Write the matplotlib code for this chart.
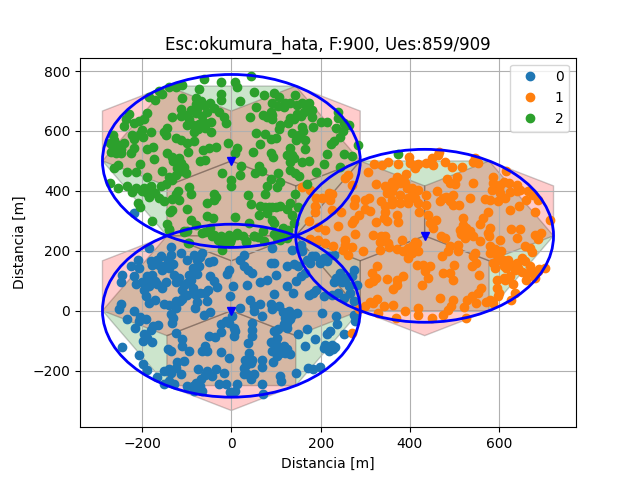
import numpy as np
import matplotlib
matplotlib.use('Agg')
import matplotlib.pyplot as plt
from matplotlib.patches import Polygon, Circle

sites = [(0, 0), (433, 250), (0, 500)]
isd = 500
labels = ['0', '1', '2']

ues_0 = [(-184,209),(-136,211),(-136,187),(-112,193),(-143,170),(-158,181),(-166,170),(-177,154),(-162,154),(-140,143),
(-155,137),(-84,187),(-65,193),(-76,170),(-50,163),(-40,165),(-87,143),(-76,123),(28,187),(20,170),(28,148),(38,137),
(47,126),(-5,137),(-9,123),(-48,115),(-39,98),(-33,79),(4,84),(36,87),(91,209),(88,159),(95,159),(125,148),(140,156),
(136,204),(155,220),(158,198),(181,181),(177,159),(188,181),(207,176),(218,181),(199,159),(229,187),(274,137),(270,115),
(244,126),(255,109),(155,115),(166,126),(99,120),(80,104),(65,95),(229,96),(248,96),(281,87),(263,81),(125,81),(138,59),
(173,54),(182,59),(95,56),(207,48),(225,54),(240,59),(252,43),(274,32),(41,37),(65,23),(50,15),(88,21),(106,15),(91,4),
(129,-2),(147,-7),(121,-24),(132,-29),(119,-46),(125,-57),(203,-7),(235,-18),(274,-13),(278,-35),(237,-46),(222,-68),
(214,-77),(252,-77),(170,-60),(149,-79),(188,-94),(164,-118),(207,-124),(218,-135),(225,-113),(233,-120),(199,-188),
(184,-196),(171,-192),(145,-207),(110,-218),(112,-235),(69,-246),(71,-279),(13,-246),(9,-268),(-2,-271),(50,-212),
(44,-229),(28,-190),(28,-212),(33,-181),(69,-163),(69,-188),(47,-163),(39,-140),(37,-107),(47,-85),(47,-63),(47,-40),
(6,-57),(9,-68),(6,-85),(20,9),(69,-18),(50,-2),(95,-68),(102,-90),(88,-104),(91,-135),(106,-124),(117,-118),(110,-140),
(132,-146),(93,-171),(102,-151),(125,-129),(-2,50),(2,-18),(-13,-35),(-24,-46),(-24,-70),(-37,-87),(-50,-85),(-60,-118),
(-65,-135),(-54,-135),(-24,-137),(-5,-157),(-75,-194),(-35,-196),(-17,-209),(-58,-216),(-43,-218),(-69,-229),(-80,-240),
(-87,-251),(-65,-268),(-84,-268),(-28,-246),(-13,-246),(-113,-210),(-106,-168),(-121,-170),(-95,-133),(-110,-96),
(-110,-118),(-125,-74),(-143,-129),(-136,-135),(-140,-196),(-151,-201),(-136,-207),(-140,-235),(-128,-244),(-151,-244),
(-166,-221),(-188,-199),(-199,-177),(-207,-148),(-246,-120),(-177,-104),(-197,-102),(-195,-79),(-181,-66),(-164,-49),
(-216,-57),(-233,-29),(-218,-2),(-192,-27),(-207,-35),(-248,21),(-251,6),(-132,-40),(-136,-11),(-125,9),(-116,34),
(-125,34),(-82,9),(-76,29),(-61,-15),(-48,-4),(-54,34),(-58,59),(-53,70),(-80,54),(-87,59),(-99,54),(-110,70),(-99,93),
(-91,104),(-117,109),(-128,120),(-147,96),(-166,89),(-184,81),(-195,70),(-192,48),(-184,26),(-170,37),(-151,21),
(-177,120),(-188,115),(-181,104),(-218,115),(-214,89),(-244,120),(-248,96),(-207,143),(-225,148),(-210,170),(-218,326),
(-180,165),(-150,150),(-130,155),(-100,170),(-70,180),(-72,150),(-95,120),(-85,75),(-70,60),(-105,85),(-125,95),
(-170,100),(-200,95),(-155,75),(-110,40),(-140,20),(-130,-25),(-205,-20),(-190,-90),(-175,-50),(200,170),(215,165),
(170,170),(150,150),(145,100),(190,70),(265,60),(255,100),(235,110),(115,-5),(125,-40),(105,-60),(135,-15),(100,-110),
(120,-140),(30,-165),(45,-175),(-5,-40),(35,-210),(-100,-250),(-70,-250),(-55,-200),(-125,-190),(210,-115),(228,-128)]

ues_1 = [(466,531),(399,514),(449,509),(464,520),(545,509),(553,492),(542,498),(478,495),(495,479),(516,481),(452,487),
(437,492),(419,490),(411,476),(400,492),(374,490),(350,498),(337,487),(320,489),(305,462),(616,465),(586,448),(392,456),
(372,448),(359,431),(323,422),(482,439),(505,446),(502,422),(490,426),(542,426),(586,426),(601,420),(622,426),(639,420),
(646,404),(665,398),(676,387),(583,404),(601,392),(613,376),(598,365),(579,370),(568,372),(534,376),(661,370),(687,370),
(645,348),(624,337),(681,329),(713,304),(378,426),(389,426),(393,409),(404,409),(419,403),(344,415),(348,392),(359,370),
(359,357),(378,387),(378,359),(396,359),(411,376),(419,359),(437,354),(437,387),(460,398),(467,365),(475,376),(497,387),
(497,354),(510,354),(421,331),(309,376),(300,370),(311,334),(277,372),(274,354),(219,392),(221,370),(203,376),(188,348),
(188,331),(225,337),(246,329),(173,298),(195,279),(240,284),(274,304),(270,292),(324,296),(344,331),(341,309),(348,298),
(370,320),(374,296),(441,320),(458,304),(445,292),(452,276),(575,328),(564,309),(557,290),(519,309),(519,287),(512,270),
(527,259),(523,243),(542,248),(557,234),(579,276),(578,248),(627,272),(646,272),(639,243),(680,254),(694,259),(687,239),
(601,237),(657,215),(674,195),(579,217),(579,193),(594,187),(545,193),(542,184),(508,220),(508,198),(486,198),(471,181),
(469,248),(478,243),(411,231),(419,198),(404,215),(385,198),(396,176),(404,192),(382,237),(318,254),(277,256),(255,237),
(255,220),(251,204),(270,213),(262,187),(294,198),(333,231),(333,204),(352,226),(354,211),(227,217),(210,226),(195,237),
(177,240),(538,148),(549,159),(499,154),(415,154),(430,154),(445,148),(434,131),(441,109),(326,148),(315,126),(324,109),
(317,98),(309,93),(348,106),(385,115),(372,104),(370,87),(361,73),(426,85),(473,126),(490,126),(497,104),(555,120),
(586,159),(590,143),(598,181),(609,170),(620,170),(616,143),(641,143),(650,176),(657,165),(668,148),(672,131),(687,131),
(702,143),(680,109),(661,101),(613,104),(624,115),(594,104),(594,76),(598,48),(560,76),(553,59),(538,48),(527,37),
(549,26),(579,37),(635,59),(627,37),(467,43),(496,37),(493,15),(486,2),(521,12),(475,-16),(525,-24),(449,-26),(419,9),
(419,-13),(389,-2),(369,-24),(361,20),(341,15),(327,39),(318,26),(300,15),(329,-7),(270,-74),(177,403),(255,442),
(262,453),(270,420),(158,414),(385,440),(365,415),(360,400),(405,385),(395,375),(300,340),(285,320),(335,365),(345,350),
(480,380),(490,365),(600,405),(625,395),(610,430),(640,400),(525,275),(535,265),(515,255),(575,260),(590,205),(605,200),
(600,170),(610,150),(625,155),(640,160),(635,135),(490,215),(415,225),(395,210),(370,205),(345,250),(335,250),(650,130),
(570,30),(585,25),(610,110),(630,90),(665,125),(690,140),(600,60),(670,210),(210,270),(225,390),(190,375),(310,30),(285,5)]

ues_2 = [(44,784),(-61,773),(-23,762),(9,765),(13,748),(-73,739),(-110,754),(-125,746),(-140,746),(-162,735),(-155,723),
(-184,712),(-170,704),(50,731),(73,720),(95,726),(106,715),(-23,724),(-23,704),(19,699),(143,720),(-110,709),(91,693),
(56,681),(-80,709),(-69,701),(-80,690),(-61,687),(-48,695),(-76,673),(-91,670),(-112,675),(-39,676),(-28,665),(-17,648),
(-11,626),(-113,650),(-99,654),(-80,659),(-134,648),(-190,659),(-229,657),(-236,639),(-240,617),(-218,626),(-207,632),
(-195,639),(41,646),(80,648),(91,654),(88,662),(119,681),(132,693),(147,687),(158,693),(173,693),(162,665),(147,656),
(181,670),(181,648),(131,643),(126,626),(201,629),(239,665),(240,643),(252,626),(263,620),(235,609),(183,613),(158,613),
(110,620),(106,606),(136,593),(151,587),(56,593),(75,590),(89,573),(100,576),(164,570),(244,579),(229,565),(223,557),
(65,556),(283,552),(131,543),(166,539),(48,529),(214,523),(252,523),(270,515),(136,521),(88,526),(94,512),(132,495),
(158,496),(173,500),(207,489),(244,481),(132,470),(143,459),(151,450),(190,463),(61,484),(52,459),(69,467),(104,459),
(89,439),(79,417),(110,428),(102,413),(170,423),(142,390),(76,390),(37,387),(44,356),(131,360),(110,348),(91,345),
(76,345),(64,348),(61,318),(80,326),(91,304),(95,293),(136,321),(140,293),(128,271),(110,260),(102,243),(71,265),(73,232),
(50,249),(32,232),(39,293),(13,260),(-5,254),(-24,249),(-43,249),(-17,232),(-20,221),(-2,228),(8,313),(-39,390),(-39,368),
(-54,360),(-95,412),(-91,391),(-119,400),(-117,370),(-134,374),(-132,337),(-137,328),(-99,339),(-54,317),(-40,309),
(-91,304),(-80,287),(-145,291),(-140,271),(-177,301),(-209,360),(-205,346),(-99,265),(-47,276),(-106,265),(-97,226),
(-1,415),(-1,435),(20,454),(22,484),(-20,459),(13,543),(9,528),(-8,559),(-35,546),(-50,543),(-63,535),(-58,504),(-70,501),
(-97,529),(-84,567),(-99,559),(-113,570),(-125,578),(-145,609),(-146,587),(-45,598),(-45,631),(-58,626),(-73,624),
(-85,620),(-99,620),(-84,598),(-181,596),(-201,604),(-199,579),(-222,587),(-219,573),(-265,587),(-271,559),(-265,543),
(-255,554),(-248,539),(-259,526),(-248,526),(-218,543),(-225,528),(-189,539),(-175,546),(-145,526),(-132,513),(-173,506),
(-113,492),(-121,476),(-155,468),(-204,489),(-255,487),(-263,476),(-214,463),(-233,463),(-190,446),(-125,454),(-102,459),
(-134,437),(-147,424),(-158,415),(-181,415),(-195,409),(-214,409),(-233,417),(-222,395),(-254,409),(-271,426),(-188,393),
(-184,378),(-170,393),(-162,376),(-151,365),(-113,465),(-20,203),(-95,226),(-106,264),(-140,273),(125,242),(110,237),
(32,231),(50,248),(-6,226),(-39,253),(-58,264),(13,253),(374,523),(-65,650),(-55,665),(-95,640),(-75,605),(-60,610),
(-150,598),(-205,590),(-262,570),(-270,530),(-240,560),(-130,500),(-118,510),(-105,480),(-140,445),(-200,400),(-178,400),
(-125,390),(-35,380),(-65,260),(-30,235),(0,240),(25,250),(60,245),(95,255),(115,275),(85,345),(100,345),(125,340),(150,345),
(125,520),(140,510),(140,640),(155,650),(170,670),(105,685),(120,695),(215,630),(250,600),(90,640),(70,655),(145,570),(160,600)]


def hexagon(cx, cy, r, start):
    ang = np.radians(start + 60 * np.arange(6))
    return np.column_stack((cx + r * np.cos(ang), cy + r * np.sin(ang)))


fig, ax = plt.subplots()

# cell outline first, the three sectors go over it
r_sector = isd / 3
r_cell = isd / np.sqrt(3)
for sx, sy in sites:
    ax.add_patch(Polygon(hexagon(sx, sy, r_cell, 0), fc='g', ec='k', alpha=0.2))
    for a in (90, 210, 330):
        cx = sx - r_sector * np.cos(np.radians(a))
        cy = sy - r_sector * np.sin(np.radians(a))
        ax.add_patch(Polygon(hexagon(cx, cy, r_sector, 30), fc='r', ec='k', alpha=0.2))

for ues, lab in zip((ues_0, ues_1, ues_2), labels):
    pts = np.array(ues)
    ax.plot(pts[:, 0], pts[:, 1], 'o', label=lab)

for sx, sy in sites:
    ax.add_patch(Circle((sx, sy), r_cell, fill=False, ec='b', lw=2, zorder=3))
    ax.plot(sx, sy, 'bv', zorder=3)

ax.set_xlim(-339, 772)
ax.set_ylim(-389, 845)
ax.grid(True)
ax.legend(loc='upper right')
ax.set_title('Esc:okumura_hata, F:900, Ues:859/909')
ax.set_xlabel('Distancia [m]')
ax.set_ylabel('Distancia [m]')
fig.savefig('out.png')
